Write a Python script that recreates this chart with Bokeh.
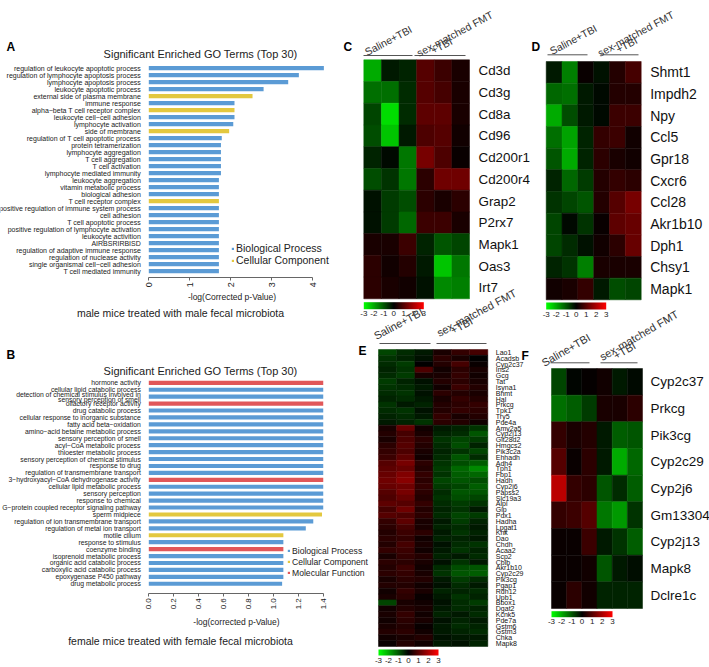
import math
from bokeh.plotting import figure
from bokeh.models import (ColumnDataSource, Range1d, Label, ColorBar, Plot, AllLabels,
                          LinearColorMapper, FixedTicker, PrintfTickFormatter)
from bokeh.layouts import row, column
from bokeh.transform import linear_cmap
from bokeh.embed import file_html
from bokeh.resources import INLINE

FONT = "Liberation Sans"
TXT = "#222222"
MN = "\u2212"

# ---------------- data: GO enrichment (A) ----------------
a_terms = [
    "regulation of leukocyte apoptotic process",
    "regulation of lymphocyte apoptosis process",
    "lymphocyte apoptosis process",
    "leukocyte apoptotic process",
    "external side of plasma membrane",
    "immune response",
    f"alpha{MN}beta T cell receptor complex",
    f"leukocyte cell{MN}cell adhesion",
    "lymphocyte activation",
    "side of membrane",
    "regulation of T cell apoptotic process",
    "protein tetramerization",
    "lymphocyte aggregation",
    "T cell aggregation",
    "T cell activation",
    "lymphocyte mediated immunity",
    "leukocyte aggregation",
    "vitamin metabolic process",
    "biological adhesion",
    "T cell receptor complex",
    "positive regulation of immune system process",
    "cell adhesion",
    "T cell apoptotic process",
    "positive regulation of lymphocyte activation",
    "leukocyte activition",
    "AIRBSRIRBISD",
    "regulation of adaptive immune response",
    "regulation of nuclease activity",
    f"single organismal cell{MN}cell adhesion",
    "T cell mediated immunity",
]
a_values = [4.27, 3.66, 3.40, 2.80, 2.53, 2.09, 2.09, 2.09, 2.06, 1.96,
            1.78, 1.76, 1.76, 1.76, 1.76, 1.76, 1.71, 1.71, 1.71, 1.71,
            1.71, 1.71, 1.71, 1.71, 1.71, 1.71, 1.71, 1.71, 1.71, 1.71]
a_kinds = ["BP", "BP", "BP", "BP", "CC", "BP", "CC", "BP", "BP", "CC",
           "BP", "BP", "BP", "BP", "BP", "BP", "BP", "BP", "BP", "CC",
           "BP", "BP", "BP", "BP", "BP", "BP", "BP", "BP", "BP", "BP"]
a_ticks = [0, 1, 2, 3, 4]

# ---------------- data: GO enrichment (B) ----------------
b_terms = [
    "hormone activity",
    "cellular lipid catabolic process",
    "detection of chemical stimulus involved in\nsensory perception of smell",
    "olfactory receptor activity",
    "drug catabolic process",
    "cellular response to inorganic substance",
    f"fatty acid beta{MN}oxidation",
    f"amino{MN}acid betaine metabolic process",
    "sensory perception of smell",
    f"acyl{MN}CoA metabolic process",
    "thioester metabolic process",
    "sensory perception of chemical stimulus",
    "response to drug",
    "regulation of transmembrane transport",
    f"3{MN}hydroxyacyl{MN}CoA dehydrogenase activity",
    "cellular lipid metabolic process",
    "sensory perception",
    "response to chemical",
    f"G{MN}protein coupled receptor signaling pathway",
    "sperm midpiece",
    "regulation of ion transmembrane transport",
    "regulation of metal ion transport",
    "motile cilium",
    "response to stimulus",
    "coenzyme binding",
    "isoprenoid metabolic process",
    "organic acid catabolic process",
    "carboxylic acid catabolic process",
    "epoxygenase P450 pathway",
    "drug metabolic process",
]
b_values = [1.40, 1.40, 1.40, 1.40, 1.40, 1.40, 1.40, 1.40, 1.40, 1.40,
            1.40, 1.40, 1.40, 1.40, 1.40, 1.40, 1.40, 1.40, 1.40, 1.39,
            1.32, 1.26, 1.08, 1.08, 1.08, 1.08, 1.08, 1.08, 1.08, 1.07]
b_kinds = ["MF", "BP", "BP", "MF", "BP", "BP", "BP", "BP", "BP", "BP",
           "BP", "BP", "BP", "BP", "MF", "BP", "BP", "BP", "BP", "CC",
           "BP", "BP", "CC", "BP", "MF", "BP", "BP", "BP", "BP", "BP"]
b_ticks = [0.0, 0.2, 0.4, 0.6, 0.8, 1.0, 1.2, 1.4]

kind_keys = ["BP", "CC", "MF"]
kind_names = ["Biological Process", "Cellular Component", "Molecular Function"]
kind_colors = ["#5b9bd5", "#e3c83f", "#e15759"]

# ---------------- data: heatmaps ----------------
samples = ["Saline+TBI 1", "Saline+TBI 2", "Saline+TBI 3", "FMT+TBI 1", "FMT+TBI 2", "FMT+TBI 3"]

c_genes = ["Cd3d", "Cd3g", "Cd8a", "Cd96", "Cd200r1", "Cd200r4", "Grap2", "P2rx7", "Mapk1", "Oas3", "Irt7"]
c_values = [
    [-2.0, -0.3, -0.4, 1.0, 0.7, 0.3],
    [-1.3, -1.3, -0.5, 1.0, 0.8, 0.3],
    [-0.8, -2.6, -0.5, 1.1, 1.1, 0.3],
    [-0.9, -2.3, -0.3, 0.9, 1.0, 0.2],
    [-0.4, -0.1, -1.4, 1.4, 0.9, 0.1],
    [-0.9, -0.6, -1.4, 0.5, 1.3, 1.3],
    [-0.2, -0.7, -0.9, 0.5, 0.3, 0.5],
    [-0.2, -0.7, -1.2, 0.7, 0.7, 0.3],
    [0.3, 0.3, 0.7, -0.4, -1.0, -0.8],
    [0.5, 0.2, 0.4, -0.3, -2.3, -1.4],
    [0.5, 0.3, 0.2, -0.2, -1.6, -1.5],
]

d_genes = ["Shmt1", "Impdh2", "Npy", "Ccl5", "Gpr18", "Cxcr6", "Ccl28", "Akr1b10", "Dph1", "Chsy1", "Mapk1"]
d_values = [
    [-0.3, -1.5, 0.1, -0.2, 0.4, 0.8],
    [-1.2, -1.3, -0.3, -0.1, 0.4, 0.4],
    [-2.0, -0.9, -0.3, -0.1, 0.7, 0.7],
    [-1.3, -1.9, -0.4, 0.6, 0.7, 0.2],
    [-1.0, -2.0, -0.4, 0.5, 0.3, 0.2],
    [-0.4, -1.2, -0.7, 0.4, 0.6, 0.5],
    [-0.6, -0.8, -1.0, 0.4, 1.0, 1.4],
    [-0.8, -0.1, -0.6, 0.1, 1.1, 1.2],
    [-0.8, -0.5, -0.2, 0.2, 0.5, 1.2],
    [-0.4, -0.6, -1.5, 0.3, 0.3, 0.3],
    [0.2, 0.3, 0.6, -0.3, -0.9, -0.8],
]

e_genes = ["Lao1", "Acadsb", "Cyp2c37", "Ins2", "Gcg", "Tat", "Isyna1", "Bhmt", "Hal", "Prkcg",
           "Tpk1", "Try5", "Pde4a", "Amy2a5", "Cyp2j13", "Glt28d2", "Hmgcs2", "Pik3c2a", "Ehhadh", "Adh4",
           "Tph1", "Fbp1", "Hadh", "Cyp2j6", "Papss2", "Slc19a3", "Alpi", "Gip", "Pdx1", "Hadha",
           "Lpgat1", "Khk", "Dao", "Chdh", "Acaa2", "Scp2", "Cblb", "Akr1b10", "Cyp2c29", "Pik3cg",
           "Pgap1", "Rdh12", "Upb1", "Bbox1", "Dgat2", "Kcnk5", "Pde7a", "Gstm6", "Gstm3", "Chka", "Mapk8"]
e_values = [
    [-0.8, -0.5, -0.3, 0.3, 0.6, 0.8],
    [-0.6, -0.4, -0.2, 0.5, 0.3, 0.0],
    [-0.5, -0.7, 0.0, 0.4, 0.8, 0.1],
    [-0.4, -0.6, 0.9, 0.2, 0.5, 0.3],
    [-0.5, -0.7, 0.3, 0.3, 0.6, 0.2],
    [-0.7, -0.4, -0.2, 0.4, 0.5, 0.3],
    [-0.6, -0.5, -0.3, 0.2, 0.7, 0.4],
    [-0.5, -0.6, -0.2, 0.5, 0.4, 0.3],
    [-0.4, -0.5, -0.3, 0.3, 0.6, 0.4],
    [-0.6, -0.3, -0.4, 0.4, 0.5, 0.6],
    [-0.5, -0.6, -0.2, 0.4, 0.6, 0.5],
    [-0.4, -0.5, -0.3, 0.6, 0.3, 0.4],
    [-0.3, -0.4, -0.6, 0.5, 0.4, 0.2],
    [0.3, 1.2, 0.2, -0.3, -0.4, -0.6],
    [0.4, 0.8, 0.3, -0.4, -0.5, -1.0],
    [0.3, 0.9, 0.5, -0.6, -0.8, -0.7],
    [0.5, 1.0, 0.4, -0.5, -0.9, -0.4],
    [0.6, 0.9, 0.3, -0.4, -0.6, -0.8],
    [0.7, 1.1, 0.2, -0.5, -1.0, -0.5],
    [1.0, 1.4, 0.5, -0.6, -0.9, -1.1],
    [1.1, 1.2, 0.4, -0.7, -1.2, -1.6],
    [1.2, 1.5, 0.6, -0.6, -1.1, -1.2],
    [1.3, 1.6, 0.5, -0.8, -1.0, -0.9],
    [1.2, 1.3, 0.6, -0.7, -0.8, -1.1],
    [1.0, 1.4, 0.5, -0.5, -1.0, -1.0],
    [0.9, 1.2, 0.4, -0.6, -0.9, -0.8],
    [1.1, 1.0, 0.6, -0.5, -0.7, -0.6],
    [0.8, 1.3, 0.4, -0.4, -0.6, -0.3],
    [1.0, 0.9, 0.5, -0.5, -0.8, -0.7],
    [0.6, 1.1, 0.3, -0.3, -0.7, -0.4],
    [0.5, 0.8, 0.3, -0.4, -0.5, -0.3],
    [0.4, 0.7, 0.5, -0.3, -0.6, -0.4],
    [0.5, 0.6, 0.2, -0.4, -0.4, -0.3],
    [0.4, 0.8, 0.3, -0.2, -0.5, -0.6],
    [0.6, 0.7, 0.2, -0.3, -0.6, -0.4],
    [0.3, 0.6, 0.4, -0.4, -0.3, -0.5],
    [0.5, 0.5, 0.3, -0.2, -0.6, -0.3],
    [0.4, 0.7, 0.2, -0.5, -0.9, -1.0],
    [0.5, 0.6, 0.3, -0.6, -1.0, -1.1],
    [0.3, 0.5, 0.4, -0.3, -0.7, -0.5],
    [0.4, 0.4, 0.2, -0.2, -0.5, -0.3],
    [0.2, 0.6, 0.3, -0.4, -0.4, -0.5],
    [0.3, 0.5, 0.1, -0.3, -0.6, -0.4],
    [-0.8, 0.3, 0.2, -0.2, -0.5, -0.7],
    [0.2, 0.4, 0.3, -0.3, -0.5, -0.4],
    [0.3, 0.6, 0.2, -0.4, -0.3, -0.5],
    [0.2, 0.5, 0.3, -0.2, -0.4, -0.3],
    [0.3, 0.4, 0.1, -0.3, -0.5, -0.4],
    [0.4, 0.5, 0.2, -0.3, -0.4, -0.5],
    [0.2, 0.3, 0.4, -0.2, -0.3, -0.3],
    [0.1, 0.4, 0.2, -0.3, -0.2, -0.4],
]

f_genes = ["Cyp2c37", "Prkcg", "Pik3cg", "Cyp2c29", "Cyp2j6", "Gm13304", "Cyp2j13", "Mapk8", "Dclre1c"]
f_values = [
    [-0.8, -0.05, 0.05, 0.2, -0.3, -0.1],
    [-1.3, -1.1, -0.7, 0.3, 0.3, 0.5],
    [0.6, 0.3, 0.4, -0.3, -1.1, -1.0],
    [1.0, 0.1, 0.5, -0.3, -2.0, -1.2],
    [2.2, 0.6, 0.5, -1.0, -0.5, -1.1],
    [0.6, 0.7, 1.0, -1.4, -1.8, -0.6],
    [0.1, 0.1, 0.7, -0.3, -0.6, -1.1],
    [0.1, 0.1, 0.2, -1.0, -0.3, -0.15],
    [0.1, 0.5, 0.2, -0.4, -0.4, -0.4],
]
cbar_ticks = [-3, -2, -1, 0, 1, 2, 3]

# green - black - red palette
PALETTE = []
for k in range(256):
    t = k / 255 * 2 - 1
    PALETTE.append("#%02x%02x%02x" % (int(round(max(t, 0) * 255)), int(round(max(-t, 0) * 255)), 0))


def make_fig(W, H, ox, oy, fx, fy, x_axis=None, y_axis=None, margin=None):
    """Figure whose frame fills the whole canvas; fx/fy map page pixels to data."""
    kw = dict(width=W, height=H, output_backend="svg", toolbar_location=None,
              x_range=Range1d(fx(ox), fx(ox + W)), y_range=Range1d(fy(oy + H), fy(oy)),
              x_axis_location=x_axis, y_axis_location=y_axis,
              min_border_left=0, min_border_right=0, min_border_top=0, min_border_bottom=0)
    if "frame_align" in Plot.properties():
        kw["frame_align"] = False
    if margin is not None:
        kw["margin"] = margin
    p = figure(**kw)
    p.background_fill_alpha = 0
    p.border_fill_alpha = 0
    p.outline_line_color = None
    p.grid.visible = False
    return p


def lab(p, x, y, text, size, align="left", baseline="alphabetic", angle=0, bold=False, color=TXT):
    p.add_layout(Label(x=x, y=y, text=text, text_font=FONT, text_font_size=size,
                       text_font_style="bold" if bold else "normal", text_color=color,
                       text_align=align, text_baseline=baseline, angle=angle, angle_units="deg"))


def go_panel(letter, title, terms, vals, kinds, ticks, tick_fmt, tick_size, xlabel, caption,
             ox, oy, W, H, x0, ppu, row0, rowh, axis_y, label_lh, label_size,
             letter_xy, title_xy, xlabel_xy, caption_xy, legend_x, legend_last_y, legend_font, item_h, spacing):
    n = len(terms)

    def fx(px):
        return (px - x0) / ppu

    def fy(py):
        return (py - row0) / rowh

    p = make_fig(W, H, ox, oy, fx, fy, x_axis="below", y_axis="left")
    rows = list(range(n))
    for key, name, color in zip(kind_keys, kind_names, kind_colors):
        ys = [r for r, k in zip(rows, kinds) if k == key]
        if not ys:
            continue
        xs = [v for v, k in zip(vals, kinds) if k == key]
        p.hbar(y=ys, right=xs, left=0, height=0.6, fill_color=color, line_color=None, legend_label=name)

    xa = p.xaxis[0]
    xa.fixed_location = fy(axis_y)
    xa.ticker = FixedTicker(ticks=ticks)
    xa.bounds = (0, ticks[-1])
    xa.formatter = PrintfTickFormatter(format=tick_fmt)
    xa.major_label_orientation = math.pi / 2
    xa.major_label_text_font = FONT
    xa.major_label_text_font_size = tick_size
    xa.major_label_text_color = TXT
    xa.major_label_standoff = 2
    xa.major_label_policy = AllLabels()
    xa.major_tick_in = 0
    xa.major_tick_out = 3
    xa.minor_tick_line_color = None
    xa.axis_line_color = "#666666"
    xa.major_tick_line_color = "#666666"

    ya = p.yaxis[0]
    ya.fixed_location = 0
    ya.ticker = FixedTicker(ticks=rows)
    ya.major_label_overrides = {r: t for r, t in zip(rows, terms)}
    ya.major_label_policy = AllLabels()
    ya.major_label_text_font = FONT
    ya.major_label_text_font_size = label_size
    ya.major_label_text_color = TXT
    ya.major_label_text_line_height = label_lh
    ya.major_label_standoff = 2
    ya.axis_line_color = None
    ya.major_tick_line_color = None
    ya.minor_tick_line_color = None

    lg = p.legend[0]
    lg.label_text_font = FONT
    lg.label_text_font_size = legend_font
    lg.label_text_color = TXT
    lg.label_height = int(item_h)
    lg.glyph_height = 3
    lg.glyph_width = 3
    lg.label_standoff = 2
    lg.spacing = spacing
    lg.padding = 0
    lg.margin = 0
    lg.border_line_color = None
    lg.background_fill_alpha = 0
    lg.location = (legend_x - ox, (oy + H) - (legend_last_y + item_h / 2))

    lab(p, fx(letter_xy[0]), fy(letter_xy[1]), letter, "12px", bold=True, color="#000000")
    lab(p, fx(title_xy[0]), fy(title_xy[1]), title, "11px", align="center", baseline="middle")
    lab(p, fx(xlabel_xy[0]), fy(xlabel_xy[1]), xlabel, "8.5px", align="center", baseline="middle")
    lab(p, fx(caption_xy[0]), fy(caption_xy[1]), caption, "10.5px", align="center", baseline="middle")
    return p


def heat_panel(letter, genes, vals, ox, oy, W, H, L, R, T, B, gene_size, standoff,
               letter_xy, headers, underlines, cbar, head_size="11px", margin=None):
    n = len(genes)
    m = len(samples)
    cw = (R - L) / m
    rh = (B - T) / n

    def fx(px):
        return (px - L) / cw

    def fy(py):
        return (py - T) / rh

    p = make_fig(W, H, ox, oy, fx, fy, x_axis=None, y_axis="right", margin=margin)

    xs, ys, vs = [], [], []
    for i, g in enumerate(genes):
        for j, s in enumerate(samples):
            xs.append(j + 0.5)
            ys.append(i + 0.5)
            vs.append(vals[i][j])
    src = ColumnDataSource(dict(x=xs, y=ys, v=vs))
    cmap = linear_cmap("v", PALETTE, -3, 3)
    p.rect("x", "y", 1, 1, source=src, fill_color=cmap, line_color=cmap, line_width=0.5)

    ya = p.yaxis[0]
    ya.fixed_location = m
    ya.ticker = FixedTicker(ticks=[i + 0.5 for i in range(n)])
    ya.major_label_overrides = {i + 0.5: g for i, g in enumerate(genes)}
    ya.major_label_policy = AllLabels()
    ya.major_label_text_font = FONT
    ya.major_label_text_font_size = gene_size
    ya.major_label_text_color = "#111111"
    ya.major_label_standoff = standoff
    ya.axis_line_color = None
    ya.major_tick_line_color = None
    ya.minor_tick_line_color = None

    for (x0, x1, yy) in underlines:
        p.segment(x0=[fx(x0)], y0=[fy(yy)], x1=[fx(x1)], y1=[fy(yy)], line_color="#555555", line_width=1)
    for (text, px, py, align, base, ang) in headers:
        lab(p, fx(px), fy(py), text, head_size, align=align, baseline=base, angle=ang, color="#333333")
    lab(p, fx(letter_xy[0]), fy(letter_xy[1]), letter, "12px", bold=True, color="#000000")

    bx, by, bw, bh = cbar
    cb = ColorBar(color_mapper=LinearColorMapper(palette=PALETTE, low=-3, high=3),
                  orientation="horizontal", width=bw, height=bh,
                  ticker=FixedTicker(ticks=cbar_ticks), formatter=PrintfTickFormatter(format="%d"),
                  major_label_policy=AllLabels(), padding=0, margin=0,
                  major_label_text_font=FONT, major_label_text_font_size="8px",
                  major_label_text_color=TXT, label_standoff=2,
                  major_tick_line_color=None, minor_tick_line_color=None, bar_line_color=None,
                  border_line_color=None, background_fill_alpha=0,
                  location=(bx - ox, (oy + H) - (by + bh + 9)))
    p.add_layout(cb)
    return p


pA = go_panel("A", "Significant Enriched GO Terms (Top 30)", a_terms, a_values, a_kinds,
              a_ticks, "%d", "9px", "-log(Corrected p-Value)",
              "male mice treated with male fecal microbiota",
              0, 0, 340, 322, 148.3, 41.0, 67.7, 7.0, 276.7, 1.2, "7px",
              (6, 46), (200, 53), (231.5, 296), (180, 312), 231, 260.7, "10.5px", 11, 0)

pB = go_panel("B", "Significant Enriched GO Terms (Top 30)", b_terms, b_values, b_kinds,
              b_ticks, "%.1f", "8px", "-log(corrected p-Value)",
              "female mice treated with female fecal microbiota",
              0, 322, 370, 345, 148.3, 124.6, 382.3, 6.93, 592.7, 0.75, "6.8px",
              (6, 354), (200, 370.7), (236, 621), (180, 640), 287, 573.3, "8.6px", 9, 1)

pC = heat_panel("C", c_genes, c_values, 340, 0, 190, 322, 363.3, 469, 59.3, 298.3, "13.4px", 3,
                (343, 46),
                [("Saline+TBI", 365, 52, "left", "alphabetic", 28),
                 ("sex-matched FMT", 417, 53, "left", "alphabetic", 28),
                 ("+TBI", 441, 45, "center", "middle", 28)],
                [(363, 412, 55), (414, 465, 55)],
                (363.3, 302.7, 60, 7), head_size="10.5px")

pD = heat_panel("D", d_genes, d_values, 530, 0, 179, 322, 545.7, 640.7, 61, 299.3, "14px", 3,
                (531, 46),
                [("Saline+TBI", 550, 51, "left", "alphabetic", 28),
                 ("sex-matched FMT", 598, 53, "left", "alphabetic", 28),
                 ("+TBI", 626, 44, "center", "middle", 28)],
                [(547, 587, 54.3), (600, 638, 54.3)],
                (545.7, 303, 60, 7), head_size="10.5px")

pE = heat_panel("E", e_genes, e_values, 354, 282, 172, 385, 378, 487.3, 349, 646, "7px", 2,
                (358, 350),
                [("Saline+TBI", 374, 336, "left", "alphabetic", 28),
                 ("sex-matched FMT", 437, 333, "left", "alphabetic", 28),
                 ("+TBI", 461, 325, "center", "middle", 28)],
                [(379, 430, 343), (436, 486, 343)],
                (378, 650, 60, 6), margin=(-40, 0, 0, -16))

pF = heat_panel("F", f_genes, f_values, 520, 292, 189, 375, 551, 642, 368, 608, "13.5px", 2,
                (521, 355),
                [("Saline+TBI", 542, 363, "left", "alphabetic", 30),
                 ("sex-matched FMT", 600, 357, "left", "alphabetic", 30),
                 ("+TBI", 624, 350, "center", "middle", 30)],
                [(550, 589, 362.3), (600, 637, 362.3)],
                (551, 611.7, 61, 6), margin=(-30, 0, 0, -6))

layout = column(row(pA, pC, pD), row(pB, pE, pF))
open("out.html", "w").write(file_html(layout, INLINE))
